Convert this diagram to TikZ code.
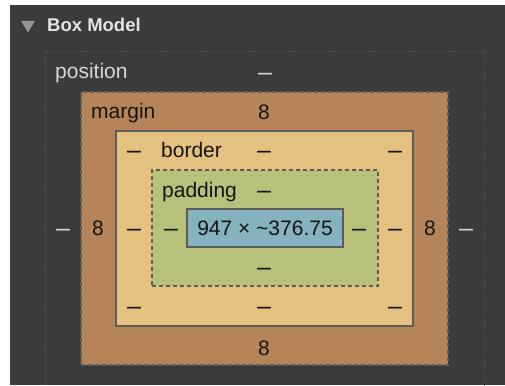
\documentclass[tikz,border=0pt]{standalone}
\usepackage{fontspec}
\setmainfont{Liberation Sans}
\definecolor{panel}{RGB}{59,59,59}
\definecolor{mfill}{RGB}{181,133,89}
\definecolor{bfill}{RGB}{229,193,128}
\definecolor{pfill}{RGB}{184,193,124}
\definecolor{cfill}{RGB}{134,177,190}
\definecolor{edge}{RGB}{92,92,92}
\definecolor{dots}{RGB}{90,90,90}
\definecolor{ink}{RGB}{20,20,20}
\definecolor{pale}{RGB}{215,215,215}
\definecolor{head}{RGB}{228,228,228}
\definecolor{tri}{RGB}{150,150,150}
\begin{document}
\begin{tikzpicture}[x=1pt,y=-1pt]
\tikzstyle{every node}=[inner sep=0pt,font=\fontsize{21}{25}\selectfont]
\tikzstyle{layer}=[draw=edge,line width=1.3pt]
\tikzstyle{dk}=[text=ink,anchor=base]
\tikzstyle{lt}=[text=pale,anchor=base]
\tikzstyle{dsh}=[font=\fontsize{25}{28}\selectfont,yshift=-1.5pt]
\useasboundingbox (0,0) rectangle (505,385);
\fill[white] (0,0) rectangle (505,385);
\fill[panel] (10,5) rectangle (505,385);
\clip (10,5) rectangle (505,385);
% header
\fill[tri] (21,21) -- (35,21) -- (28,32.5) -- cycle;
\node[text=head,anchor=base west,font=\fontsize{18.5}{22}\bfseries] (title) at (47,31.7) {Box Model};
% position
\draw[dots,line width=0.8pt,dash pattern=on 1pt off 1.5pt] (45,51) rectangle (484,400);
\node[lt,anchor=base west] (posl) at (55,79) {position};
\node[lt,dsh] (post) at (265,79) {\textendash};
\node[lt,dsh] (posw) at (63,235) {\textendash};
\node[lt,dsh] (pose) at (466,235) {\textendash};
% nested boxes
\node[layer,dash pattern=on 4pt off 3pt,fill=mfill,minimum width=367pt,minimum height=273pt] (mg) at (264.5,228.5) {};
\node[layer,fill=bfill,minimum width=297pt,minimum height=195pt] (bd) at (264.5,228.5) {};
\node[layer,dash pattern=on 4pt off 3pt,fill=pfill,minimum width=226pt,minimum height=116pt] (pd) at (265,228) {};
\node[layer,fill=cfill,text=ink,minimum width=156pt,minimum height=38pt] (ct) at (265,228) {947 × \textasciitilde376.75};
% margin
\node[dk,anchor=base west] (mgl) at (91,118) {margin};
\node[dk] (mgt) at (264,119) {8};
\node[dk] (mgw) at (98,235) {8};
\node[dk] (mge) at (430,235) {8};
\node[dk] (mgb) at (264,355) {8};
% border
\node[dk,dsh] (bdnw) at (134,157) {\textendash};
\node[dk,anchor=base west] (bdl) at (161,157) {border};
\node[dk,dsh] (bdt) at (264,157) {\textendash};
\node[dk,dsh] (bdne) at (395,157) {\textendash};
\node[dk,dsh] (bdw) at (134,235) {\textendash};
\node[dk,dsh] (bde) at (395,235) {\textendash};
\node[dk,dsh] (bdsw) at (134,313) {\textendash};
\node[dk,dsh] (bdb) at (264,313) {\textendash};
\node[dk,dsh] (bdse) at (395,313) {\textendash};
% padding
\node[dk,anchor=base west] (pdl) at (162,197) {padding};
\node[dk,dsh] (pdt) at (264,197) {\textendash};
\node[dk,dsh] (pdw) at (171,235) {\textendash};
\node[dk,dsh] (pde) at (359,235) {\textendash};
\node[dk,dsh] (pdb) at (264,274) {\textendash};
\end{tikzpicture}
\end{document}
